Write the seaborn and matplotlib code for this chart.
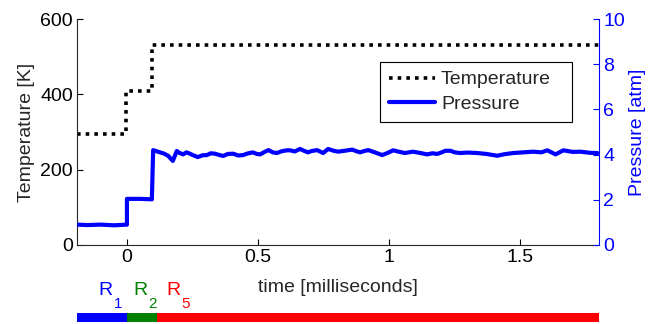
import numpy as np
import pandas as pd
import seaborn as sns
from matplotlib import pyplot as plt

# temperature steps (K)
temp_t = [-0.19, -0.005, -0.005, 0.095, 0.095, 1.8]
temp_k = [295, 295, 410, 410, 530, 530]

# pressure trace (atm)
pres_t = [-0.19, -0.15, -0.1, -0.05, 0.0, 0.0, 0.05, 0.095, 0.1, 0.113, 0.126, 0.14,
          0.157, 0.175, 0.19, 0.2, 0.214, 0.227, 0.24, 0.255, 0.27, 0.288, 0.305,
          0.32, 0.336, 0.35, 0.367, 0.385, 0.405, 0.425, 0.443, 0.46, 0.48, 0.495,
          0.508, 0.525, 0.54, 0.556, 0.572, 0.59, 0.61, 0.622, 0.64, 0.66, 0.675,
          0.69, 0.705, 0.725, 0.748, 0.767, 0.785, 0.805, 0.83, 0.859, 0.875,
          0.889, 0.905, 0.92, 0.945, 0.973, 0.995, 1.015, 1.04, 1.06, 1.075, 1.09,
          1.115, 1.145, 1.165, 1.183, 1.2, 1.214, 1.233, 1.25, 1.27, 1.3, 1.336,
          1.37, 1.412, 1.44, 1.473, 1.51, 1.55, 1.58, 1.603, 1.634, 1.664, 1.7,
          1.73, 1.765, 1.794]
pres_atm = [0.9, 0.88, 0.9, 0.87, 0.9, 2.04, 2.04, 2.02, 4.2, 4.15, 4.1, 4.05,
            3.95, 3.72, 4.16, 4.08, 4.01, 4.1, 4.04, 3.96, 3.89, 3.97, 3.98,
            4.06, 4.04, 3.99, 3.94, 4.03, 4.04, 3.96, 3.98, 4.05, 4.1, 4.03,
            4.01, 4.12, 4.2, 4.1, 4.07, 4.15, 4.19, 4.19, 4.14, 4.25, 4.17,
            4.1, 4.16, 4.2, 4.07, 4.25, 4.18, 4.13, 4.17, 4.22, 4.15,
            4.1, 4.16, 4.2, 4.1, 3.98, 4.08, 4.19, 4.12, 4.07, 4.1, 4.13,
            4.08, 4.01, 4.06, 4.03, 4.1, 4.17, 4.17, 4.1, 4.07, 4.09, 4.07,
            4.03, 3.95, 4.02, 4.07, 4.1, 4.13, 4.1, 4.19, 4.01, 4.19, 4.12,
            4.13, 4.08, 4.07]

# regions strip
reg_subs = ["1", "2", "5"]
reg_start = [-0.19, 0.0, 0.115]
reg_end = [0.0, 0.115, 1.8]
reg_colors = ["#0000ff", "#008000", "#ff0000"]
reg_label_x = [-0.107, 0.023, 0.151]

sns.set_style("ticks")
plt.rcParams["font.family"] = ["Liberation Sans", "DejaVu Sans"]
plt.rcParams["font.size"] = 14
plt.rcParams["xtick.direction"] = "in"
plt.rcParams["ytick.direction"] = "in"

fs = 14

fig = plt.figure(figsize=(6.59, 3.24), dpi=100)
ax = fig.add_axes([0.117, 0.244, 0.792, 0.697])
ax2 = ax.twinx()

df_t = pd.DataFrame({"t": temp_t, "T": temp_k})
df_p = pd.DataFrame({"t": pres_t, "p": pres_atm})

sns.lineplot(data=df_t, x="t", y="T", ax=ax, estimator=None, sort=False,
             color="black", linewidth=2.6, linestyle=(0, (1, 1.4)),
             dash_capstyle="butt", label="Temperature", legend=False)
sns.lineplot(data=df_p, x="t", y="p", ax=ax2, estimator=None, sort=False,
             color="#0000ff", linewidth=3.0, label="Pressure", legend=False)

ax.set_xlim(-0.19, 1.8)
ax.set_ylim(0, 600)
ax2.set_ylim(0, 10)
ax.set_xticks([0, 0.5, 1, 1.5])
ax.set_xticklabels(["0", "0.5", "1", "1.5"])
ax.set_yticks([0, 200, 400, 600])
ax2.set_yticks([0, 2, 4, 6, 8, 10])
ax.set_xlabel("time [milliseconds]", fontsize=fs, labelpad=9)
ax.set_ylabel("Temperature [K]", fontsize=fs, labelpad=4)
ax2.set_ylabel("Pressure [atm]", fontsize=fs, color="#0000ff", labelpad=3)

for a in (ax, ax2):
    a.spines["top"].set_visible(False)
ax.spines["right"].set_visible(False)
ax2.spines["left"].set_visible(False)
ax2.spines["bottom"].set_visible(False)
ax2.spines["right"].set_color("#0000ff")
ax.tick_params(axis="both", length=4, width=0.8, labelsize=fs, colors="black", pad=3)
ax2.tick_params(axis="y", length=4, width=0.8, labelsize=fs, colors="#0000ff", pad=3)

h1, l1 = ax.get_legend_handles_labels()
h2, l2 = ax2.get_legend_handles_labels()
leg = ax2.legend(h1 + h2, l1 + l2, loc="upper left",
                 bbox_to_anchor=(0.58, 0.549, 0.368, 0.261), mode="expand",
                 fancybox=False, edgecolor="black", framealpha=1,
                 handlelength=2.4, handletextpad=0.3, fontsize=fs,
                 borderpad=0.45, labelspacing=0.35, borderaxespad=0)
leg.get_frame().set_linewidth(0.8)

# strip of regions under the chart
sax = fig.add_axes([0.117, 0.006, 0.792, 0.028])
sax.barh([0, 0, 0], np.array(reg_end) - np.array(reg_start), left=reg_start,
         color=reg_colors, height=1, linewidth=0)
sax.set_xlim(-0.19, 1.8)
sax.set_ylim(-0.5, 0.5)
sax.axis("off")
for sub, x, c in zip(reg_subs, reg_label_x, reg_colors):
    sax.text(x, 2.95, "R", color=c, fontsize=14, ha="left", va="center")
    sax.annotate(sub, xy=(x, 2.95), xytext=(15, -13), textcoords="offset pixels",
                 color=c, fontsize=11, ha="left", va="center",
                 annotation_clip=False)

fig.savefig("out.png", dpi=100)
